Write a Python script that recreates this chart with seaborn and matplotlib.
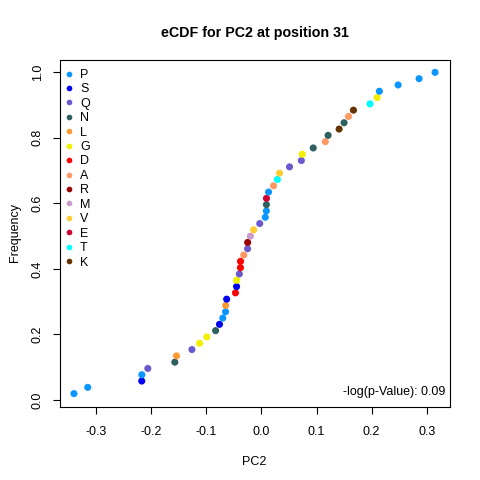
import numpy as np
import pandas as pd
import matplotlib
matplotlib.use("Agg")
import matplotlib.pyplot as plt
import seaborn as sns

# ---- data ----
residues = ["P", "P", "S", "P", "Q", "N", "L", "Q", "G", "G",
            "N", "S", "P", "P", "L", "S", "D", "S", "G", "Q",
            "D", "D", "A", "Q", "R", "M", "V", "Q", "P", "P",
            "N", "E", "P", "A", "T", "V", "Q", "Q", "G", "N",
            "A", "N", "K", "N", "A", "K", "T", "G", "P", "P",
            "P", "P"]
pc2 = [-0.340, -0.315, -0.217, -0.2168, -0.206, -0.157, -0.154, -0.126, -0.112, -0.099,
       -0.083, -0.076, -0.070, -0.065, -0.0648, -0.063, -0.047, -0.045, -0.0449, -0.040,
       -0.038, -0.0379, -0.032, -0.025, -0.0249, -0.020, -0.014, -0.003, 0.007, 0.009,
       0.0091, 0.0092, 0.013, 0.022, 0.029, 0.033, 0.051, 0.0725, 0.074, 0.094,
       0.116, 0.121, 0.141, 0.150, 0.158, 0.167, 0.197, 0.210, 0.214, 0.248,
       0.286, 0.315]
legend_order = ["P", "S", "Q", "N", "L", "G", "D", "A", "R", "M", "V", "E", "T", "K"]
legend_colors = ["#0A96FF", "#0000F0", "#6A5ACD", "#2F6060", "#FF9933", "#F0F000", "#FF0000",
                 "#FF9966", "#990000", "#CC99CC", "#FFCC33", "#CC0033", "#00FFFF", "#663300"]
title = "eCDF for PC2 at position 31"
xlabel = "PC2"
ylabel = "Frequency"
pval_text = "-log(p-Value): 0.09"
xticks = [-0.3, -0.2, -0.1, 0.0, 0.1, 0.2, 0.3]
yticks = [0.0, 0.2, 0.4, 0.6, 0.8, 1.0]

n = len(pc2)
freq = [(i + 1) / n for i in range(n)]
df = pd.DataFrame({"PC2": pc2, "Frequency": freq, "Residue": residues})
palette = dict(zip(legend_order, legend_colors))

sns.set_theme(style="white")
plt.rcParams["font.family"] = ["Liberation Sans", "DejaVu Sans"]

fs = 9
fig = plt.figure(figsize=(4.8, 4.8), dpi=100)
ax = fig.add_axes([59.5 / 480, 1 - 406.5 / 480, 390 / 480, 347 / 480])

sns.scatterplot(data=df, x="PC2", y="Frequency", hue="Residue", hue_order=legend_order,
                palette=palette, s=26, linewidth=0, edgecolor="none", ax=ax, legend=True)

xmin, xmax = min(pc2), max(pc2)
rx = xmax - xmin
ax.set_xlim(xmin - 0.04 * rx, xmax + 0.04 * rx)
ymin, ymax = min(freq), max(freq)
ry = ymax - ymin
ax.set_ylim(ymin - 0.04 * ry, ymax + 0.04 * ry)

ax.set_xticks(xticks)
ax.set_xticklabels([f"{t:.1f}" for t in xticks])
ax.set_yticks(yticks)
ax.set_yticklabels([f"{t:.1f}" for t in yticks], rotation=90, va="center")
ax.tick_params(axis="both", direction="out", length=5.2, width=0.8, color="black",
               labelsize=fs, labelcolor="black", left=True, bottom=True)
ax.tick_params(axis="x", pad=9)
ax.tick_params(axis="y", pad=6)
for sp in ax.spines.values():
    sp.set_visible(True)
    sp.set_color("black")
    sp.set_linewidth(0.8)

ax.set_xlabel(xlabel, fontsize=fs, color="black", labelpad=13)
ax.set_ylabel(ylabel, fontsize=fs, color="black", labelpad=8)
fig.text(254.5 / 480, 1 - 33 / 480, title, ha="center", va="center",
         fontsize=10.3, fontweight="bold", color="black")

ax.text(0.99, 0.025, pval_text, transform=ax.transAxes, ha="right", va="bottom",
        fontsize=fs, color="black")

handles, labels = ax.get_legend_handles_labels()
leg = ax.legend(handles, labels, loc="upper left", bbox_to_anchor=(-0.008, 1),
                borderaxespad=0, borderpad=0.75, frameon=False, fontsize=fs,
                handlelength=0.5, handletextpad=0.65, labelspacing=0.195,
                markerscale=0.8, title=None)
for t in leg.get_texts():
    t.set_color("black")

fig.savefig("out.png", dpi=100, facecolor="white")
